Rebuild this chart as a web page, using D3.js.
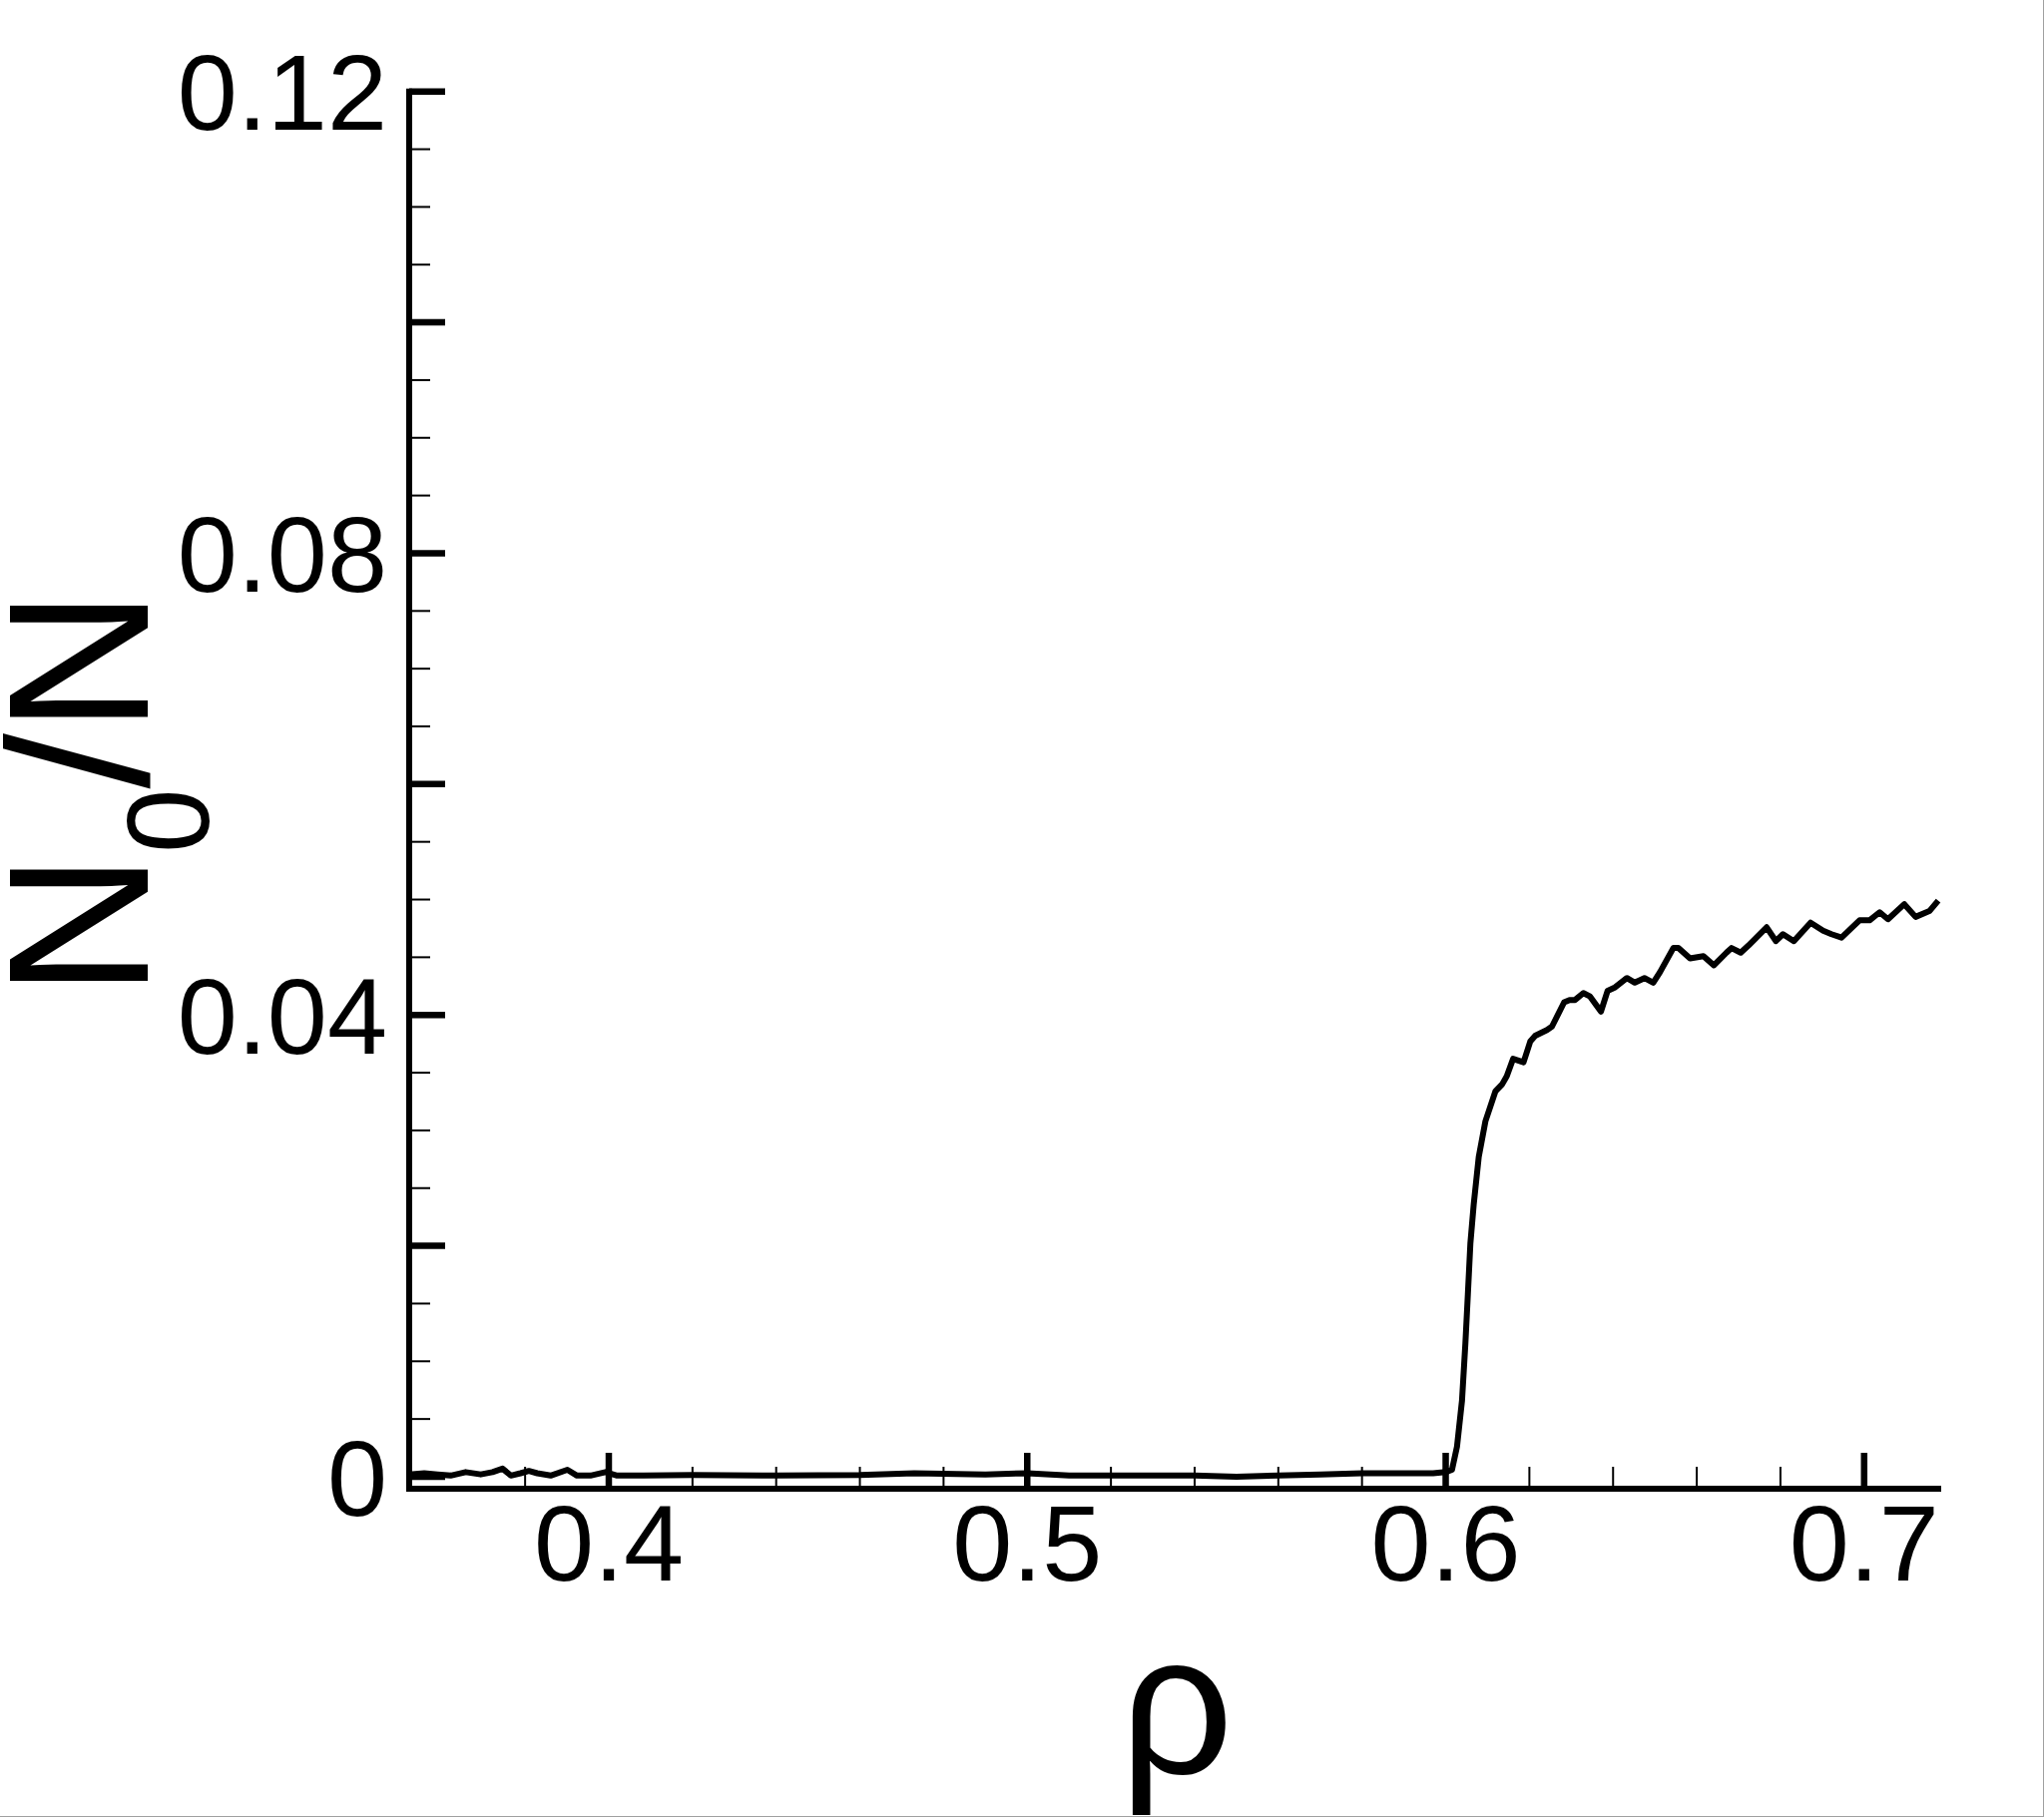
<!DOCTYPE html>
<html>
<head>
<meta charset="utf-8">
<script src="https://cdn.jsdelivr.net/npm/d3@7"></script>
<style>
  html, body { margin: 0; padding: 0; background: #fff; }
  svg { display: block; }
  text { font-family: "Liberation Sans", Arial, Helvetica, sans-serif; fill: #000; }
</style>
</head>
<body>
<script>
// ---- data ----
const rho = [0.3523, 0.3559, 0.3591, 0.3622, 0.3658, 0.3694, 0.3722, 0.3746, 0.3766, 0.3789,
  0.3809, 0.3829, 0.3861, 0.3901, 0.3924, 0.3956, 0.3992, 0.4020, 0.4083,
  0.42, 0.44, 0.46, 0.473, 0.49, 0.50, 0.51, 0.52, 0.53, 0.54, 0.55, 0.56, 0.57, 0.58, 0.59, 0.597, 0.600,
  0.6015, 0.6027, 0.6039, 0.6047, 0.6053, 0.6059, 0.6067, 0.6079, 0.6095, 0.6119,
  0.6135, 0.6146, 0.6161, 0.6186, 0.6202, 0.6214, 0.6242, 0.6254, 0.6283, 0.6296,
  0.6309, 0.6329, 0.6345, 0.6371, 0.6387, 0.6405, 0.6433, 0.6452, 0.6475, 0.6496,
  0.6512, 0.6544, 0.6556, 0.6584, 0.6616, 0.6641, 0.6671, 0.6683, 0.6705, 0.6723,
  0.6767, 0.6789, 0.6806, 0.6832, 0.6872, 0.6902, 0.6922, 0.6946, 0.6969, 0.6989,
  0.7013, 0.7037, 0.7057, 0.7096, 0.7123, 0.7156, 0.7177];
const n0n = [0.0002, 0.0003, 0.0002, 0.0001, 0.0004, 0.0002, 0.0004, 0.0007, 0.0001, 0.0003,
  0.0005, 0.0003, 0.0001, 0.0006, 0.0001, 0.0001, 0.0004, 0.0001, 0.0001,
  0.00015, 0.0001, 0.00015, 0.0003, 0.0002, 0.0003, 0.0001, 0.0001, 0.0001, 0.0001, 0.0000, 0.0001, 0.0002, 0.0003, 0.0003, 0.0003, 0.0004,
  0.0006, 0.0026, 0.0066, 0.0115, 0.0158, 0.0202, 0.0236, 0.0277, 0.0308, 0.0334,
  0.0340, 0.0347, 0.0362, 0.0359, 0.0377, 0.0382, 0.0387, 0.0390, 0.0411, 0.0413,
  0.0413, 0.0419, 0.0416, 0.0403, 0.0421, 0.0424, 0.0432, 0.0428, 0.0432, 0.0428,
  0.0437, 0.0458, 0.0458, 0.0449, 0.0451, 0.0443, 0.0454, 0.0458, 0.0454, 0.0460,
  0.0476, 0.0464, 0.0470, 0.0464, 0.0480, 0.0473, 0.0470, 0.0467, 0.0475, 0.0482,
  0.0482, 0.0489, 0.0483, 0.0496, 0.0485, 0.0490, 0.0499];

const xMajorTicks = [0.4, 0.5, 0.6, 0.7];
const xTickLabels = ["0.4", "0.5", "0.6", "0.7"];
const xMinorTicks = [0.38, 0.42, 0.44, 0.46, 0.48, 0.52, 0.54, 0.56, 0.58, 0.62, 0.64, 0.66, 0.68];
const yMajorTicks = [0, 0.02, 0.04, 0.06, 0.08, 0.10, 0.12];
const yLabelTicks = [0, 0.04, 0.08, 0.12];
const yTickLabels = ["0", "0.04", "0.08", "0.12"];
const yMinorTicks = [0.005, 0.01, 0.015, 0.025, 0.03, 0.035, 0.045, 0.05, 0.055, 0.065, 0.07, 0.075,
  0.085, 0.09, 0.095, 0.105, 0.11, 0.115];
const xDomain = [0.3523, 0.7177];
const yDomain = [-0.00104, 0.12];

// ---- drawing ----
const W = 2048, H = 1821;
const svg = d3.select("body").append("svg").attr("width", W).attr("height", H);
svg.append("rect").attr("width", W).attr("height", H).attr("fill", "#fff");

const x = d3.scaleLinear().domain(xDomain).range([410, 1942]);
const y = d3.scaleLinear().domain(yDomain).range([1492, 91.7]);

const x0 = x(xDomain[0]), yb = y(yDomain[0]);

// minor ticks
svg.append("g").selectAll("line").data(yMinorTicks).join("line")
  .attr("x1", x0).attr("x2", x0 + 21).attr("y1", d => y(d)).attr("y2", d => y(d))
  .attr("stroke", "#000").attr("stroke-width", 2);
svg.append("g").selectAll("line").data(xMinorTicks).join("line")
  .attr("x1", d => x(d)).attr("x2", d => x(d)).attr("y1", yb).attr("y2", yb - 22)
  .attr("stroke", "#000").attr("stroke-width", 2);

// major ticks
svg.append("g").selectAll("line").data(yMajorTicks).join("line")
  .attr("x1", x0).attr("x2", x0 + 36).attr("y1", d => y(d)).attr("y2", d => y(d))
  .attr("stroke", "#000").attr("stroke-width", 6.5);
svg.append("g").selectAll("line").data(xMajorTicks).join("line")
  .attr("x1", d => x(d)).attr("x2", d => x(d)).attr("y1", yb).attr("y2", yb - 36)
  .attr("stroke", "#000").attr("stroke-width", 6.5);

// axis lines
svg.append("line").attr("x1", x0).attr("x2", x0).attr("y1", yb).attr("y2", y(yDomain[1]))
  .attr("stroke", "#000").attr("stroke-width", 6).attr("stroke-linecap", "square");
svg.append("line").attr("x1", x0).attr("x2", x(xDomain[1])).attr("y1", yb).attr("y2", yb)
  .attr("stroke", "#000").attr("stroke-width", 6).attr("stroke-linecap", "square");

// tick labels
svg.append("g").selectAll("text").data(yLabelTicks).join("text")
  .attr("x", 388).attr("y", d => y(d) + 38.7)
  .attr("text-anchor", "end").attr("font-size", 108)
  .text((d, i) => yTickLabels[i]);
svg.append("g").selectAll("text").data(xMajorTicks).join("text")
  .attr("x", d => x(d)).attr("y", 1584)
  .attr("text-anchor", "middle").attr("font-size", 108)
  .text((d, i) => xTickLabels[i]);

// data line
const pts = rho.map((r, i) => [r, n0n[i]]);
svg.append("path").datum(pts)
  .attr("d", d3.line().x(d => x(d[0])).y(d => y(d[1])))
  .attr("fill", "none").attr("stroke", "#000").attr("stroke-width", 6)
  .attr("stroke-linejoin", "round");

// axis titles
svg.append("text").attr("x", 1179).attr("y", 1777).attr("text-anchor", "middle")
  .attr("font-size", 200).text("ρ");
const yt = svg.append("text").attr("transform", "translate(148,795) rotate(-90)")
  .attr("text-anchor", "middle").attr("font-size", 200);
yt.append("tspan").text("N");
yt.append("tspan").attr("font-size", 116).attr("dy", 61).text("0");
yt.append("tspan").attr("dy", -61).text("/N");

// frame edges (gray)
svg.append("line").attr("x1", W - 0.5).attr("x2", W - 0.5).attr("y1", 0).attr("y2", H)
  .attr("stroke", "#a0a0a0").attr("stroke-width", 1);
svg.append("line").attr("x1", 0).attr("x2", W).attr("y1", H - 0.5).attr("y2", H - 0.5)
  .attr("stroke", "#a0a0a0").attr("stroke-width", 1);
</script>
</body>
</html>
